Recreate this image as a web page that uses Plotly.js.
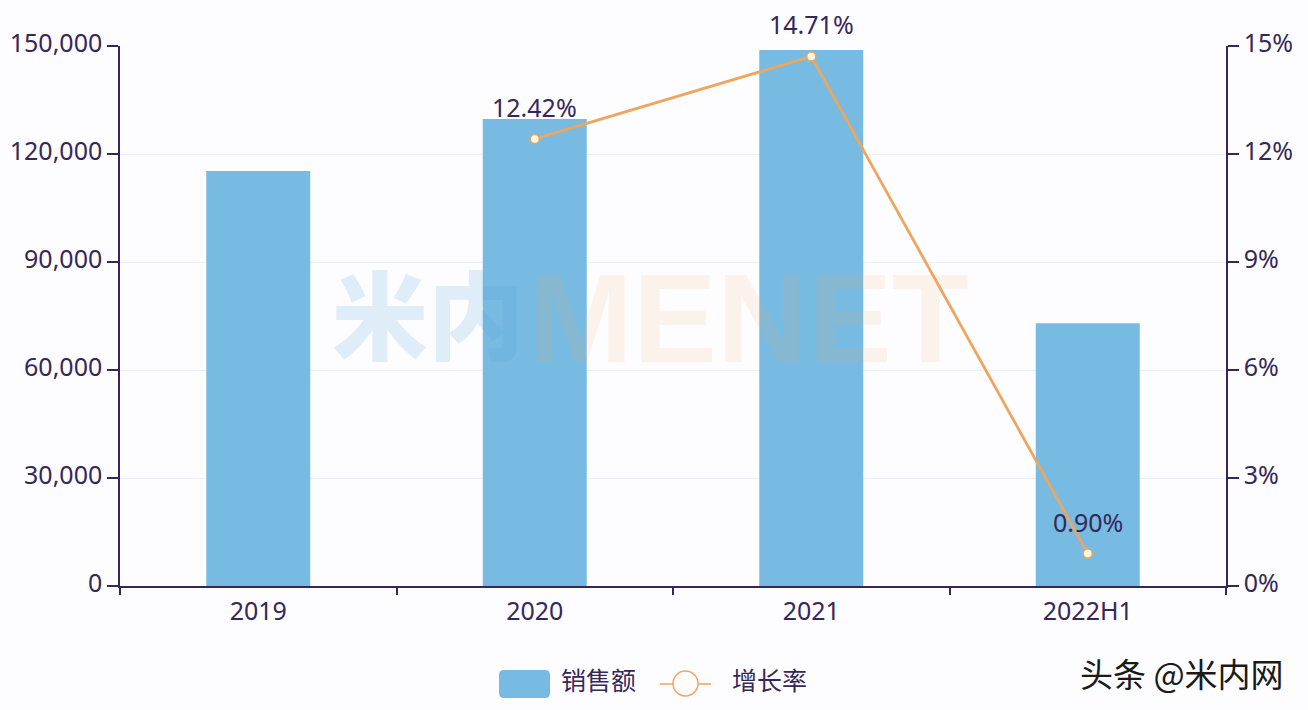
<!DOCTYPE html>
<html>
<head>
<meta charset="utf-8">
<script src="https://cdn.plot.ly/plotly-3.0.1.min.js"></script>
<style>html,body{margin:0;padding:0;background:#fdfdff}</style>
</head>
<body>
<div id="chart" style="width:1308px;height:710px"></div>
<script>
const categories = ['2019', '2020', '2021', '2022H1'];
const sales = [115300, 129700, 148900, 73000];
const growthCats = ['2020', '2021', '2022H1'];
const growth = [12.42, 14.71, 0.90];
const growthLabels = ['12.42%', '14.71%', '0.90%'];
const leftTicks = [0, 30000, 60000, 90000, 120000, 150000];
const rightTicks = [0, 3, 6, 9, 12, 15];
const rightTickLabels = ['0%', '3%', '6%', '9%', '12%', '15%'];

const W = 1308, H = 710, L = 120, R = 1226, T = 46, B = 586;
const px = v => (v - L) / (R - L);
const py = v => (B - v) / (B - T);
const ink = '#352858';
const blue = '#77bbe2';
const orange = '#eea55e';
const labelFont = {family: '"Noto Sans", "Open Sans", sans-serif', size: 25, color: ink};
const cjk = '"Noto Sans CJK SC", sans-serif';

function roundRect(x0, y0, x1, y1, r) {
  const X = px, Y = py;
  return `M${X(x0 + r)},${Y(y0)} L${X(x1 - r)},${Y(y0)} Q${X(x1)},${Y(y0)} ${X(x1)},${Y(y0 + r)} ` +
    `L${X(x1)},${Y(y1 - r)} Q${X(x1)},${Y(y1)} ${X(x1 - r)},${Y(y1)} L${X(x0 + r)},${Y(y1)} ` +
    `Q${X(x0)},${Y(y1)} ${X(x0)},${Y(y1 - r)} L${X(x0)},${Y(y0 + r)} Q${X(x0)},${Y(y0)} ${X(x0 + r)},${Y(y0)} Z`;
}

const traces = [
  {type: 'bar', name: '销售额', x: categories, y: sales, width: 0.376,
   marker: {color: blue, line: {width: 0}}, yaxis: 'y', hoverinfo: 'x+y'},
  {type: 'scatter', mode: 'lines+markers', x: growthCats, y: growth, yaxis: 'y2', showlegend: false,
   line: {color: orange, width: 2.8},
   marker: {size: 9, color: '#fff8e6', line: {color: orange, width: 1.5}}},
  {type: 'scatter', mode: 'markers', name: '增长率', x: [null], y: [null], yaxis: 'y2',
   marker: {size: 16, color: 'rgba(255,255,255,0)', line: {width: 0}}}
];

const annotations = growthCats.map((c, i) => ({
  xref: 'x', yref: 'y2', x: categories.indexOf(c), y: growth[i], text: growthLabels[i], showarrow: false,
  yshift: 32, font: labelFont
}));
annotations.push(
  {xref: 'paper', yref: 'paper', x: px(428), y: py(310), xanchor: 'center', yanchor: 'middle', text: '米内', showarrow: false,
   font: {family: cjk, size: 96, weight: 900, color: 'rgba(80,160,215,0.17)'}},
  {xref: 'paper', yref: 'paper', x: px(748), y: py(318), xanchor: 'center', yanchor: 'middle', text: 'MENET', showarrow: false,
   font: {family: '"Liberation Sans", sans-serif', size: 126, weight: 700, color: 'rgba(250,165,95,0.12)'}},
  {xref: 'paper', yref: 'paper', x: px(1182), y: py(673), xanchor: 'center', yanchor: 'middle', text: '头条 @米内网', showarrow: false,
   font: {family: cjk, size: 33, color: '#1a1a1a'}}
);

const shapes = [
  {type: 'path', xref: 'paper', yref: 'paper', path: roundRect(499, 670, 550, 698, 5),
   fillcolor: blue, line: {width: 0}},
  {type: 'line', xref: 'paper', yref: 'paper', x0: px(660), x1: px(673), y0: py(684), y1: py(684),
   line: {color: orange, width: 1.5}},
  {type: 'line', xref: 'paper', yref: 'paper', x0: px(698), x1: px(711), y0: py(684), y1: py(684),
   line: {color: orange, width: 1.5}},
  {type: 'circle', xref: 'paper', yref: 'paper', x0: px(673), x1: px(698), y0: py(696), y1: py(671),
   fillcolor: 'rgba(255,255,255,0)', line: {color: orange, width: 1.5}}
];

const layout = {
  width: W, height: H,
  margin: {l: L, r: W - R, t: T, b: H - B, pad: 0},
  paper_bgcolor: '#fdfdff', plot_bgcolor: '#fdfdff',
  showlegend: true,
  legend: {orientation: 'h', xref: 'paper', x: px(501), xanchor: 'left',
           yref: 'container', y: (H - 680) / H, yanchor: 'middle',
           font: {family: cjk, size: 25, color: ink}, itemsizing: 'constant', itemwidth: 50,
           bgcolor: 'rgba(0,0,0,0)', traceorder: 'normal', entrywidth: 106, entrywidthmode: 'pixels'},
  xaxis: {type: 'category', categoryorder: 'array', categoryarray: categories,
          range: [-0.5, 3.5], showgrid: false, showline: true, linecolor: ink, linewidth: 1.5,
          ticks: 'outside', tickson: 'boundaries', ticklen: 7, tickcolor: ink, tickwidth: 1.5,
          tickfont: labelFont, ticklabelstandoff: 2, zeroline: false, automargin: false},
  yaxis: {range: [0, 150000], tickvals: leftTicks, tickformat: ',d',
          showgrid: true, gridcolor: '#e8f0fa', gridwidth: 1, zeroline: false,
          showline: true, linecolor: ink, linewidth: 1.5,
          ticks: 'outside', ticklen: 11, tickcolor: ink, tickwidth: 1.5,
          tickfont: labelFont, ticklabelshift: -3, automargin: false},
  yaxis2: {range: [0, 15], tickvals: rightTicks, ticktext: rightTickLabels, overlaying: 'y', side: 'right',
           showgrid: false, zeroline: false, showline: true, linecolor: ink, linewidth: 1.5,
           ticks: 'outside', ticklen: 11, tickcolor: ink, tickwidth: 1.5,
           tickfont: labelFont, ticklabelshift: -3, automargin: false},
  annotations, shapes
};

Plotly.newPlot('chart', traces, layout, {displayModeBar: false, responsive: false});
</script>
</body>
</html>
